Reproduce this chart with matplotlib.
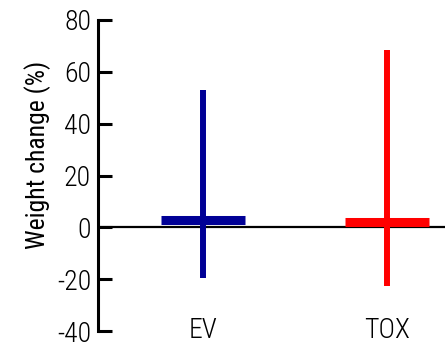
import matplotlib
matplotlib.use("Agg")
import matplotlib.pyplot as plt
from matplotlib import font_manager

groups = ["EV", "TOX"]
means = [2.7, 2.0]
lows = [-19.4, -22.5]
highs = [53.0, 68.5]
colors = ["#000096", "#FF0000"]
yticks = [-40, -20, 0, 20, 40, 60, 80]

names = {f.name for f in font_manager.fontManager.ttflist}
fam = [n for n in ["Liberation Sans Narrow", "Arial Narrow", "Roboto Condensed",
                   "PT Sans Narrow", "Liberation Sans", "DejaVu Sans"] if n in names]
plt.rcParams['font.family'] = fam
plt.rcParams['font.weight'] = 300

fig = plt.figure(figsize=(4.45, 3.46), dpi=100)
ax = fig.add_axes([98/445, 1-331/346, 1-98/445, (331-20)/346])

xs = [1, 2]
hw = 0.23
for x, m, lo, hi, c in zip(xs, means, lows, highs, colors):
    ax.plot([x, x], [lo, hi], color=c, lw=4.3, solid_capstyle='butt', zorder=3)
    ax.plot([x-hw, x+hw], [m, m], color=c, lw=6.5, solid_capstyle='butt', zorder=3)

ax.axhline(0, color='black', lw=1.6, zorder=2)

ax.set_xlim(1-105/184, 2+58/184)
ax.set_ylim(-40, 80)
ax.set_yticks(yticks)
ax.set_yticklabels([str(t) for t in yticks], fontsize=20)
ax.set_xticks(xs)
ax.set_xticklabels(groups, fontsize=20)
ax.tick_params(axis='x', length=0, pad=-10)
ax.tick_params(axis='y', direction='in', length=10, width=2.2, pad=5)
for s in ['top', 'right', 'bottom']:
    ax.spines[s].set_visible(False)
ax.spines['left'].set_linewidth(2.2)
ax.set_ylabel("Weight change (%)", fontsize=18.5)
ax.yaxis.set_label_coords(-0.135, 0.566)

fig.savefig("out.png", dpi=100)
